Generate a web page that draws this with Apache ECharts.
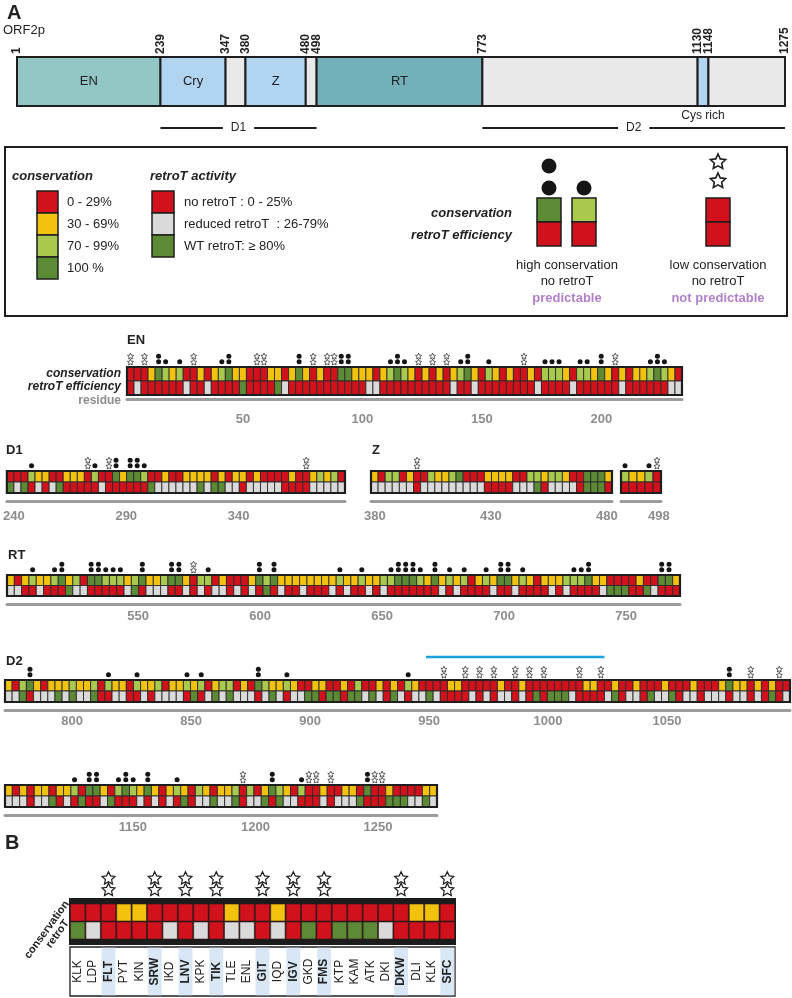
<!DOCTYPE html>
<html><head><meta charset="utf-8">
<script src="https://cdn.jsdelivr.net/npm/echarts@6/dist/echarts.min.js"></script>
<style>html,body{margin:0;padding:0;background:#fff}#c{width:792px;height:998px}</style>
</head><body><div id="c"></div>
<script>
// ---------------- DATA ----------------
// conservation code: 0 = 0-29%, 1 = 30-69%, 2 = 70-99%, 3 = 100%
// retroT code: 0 = no retroT, 1 = reduced, 2 = WT
const domainStart = [1, 239, 347, 380, 480, 498, 773, 1130, 1148];
const domainEnd   = [239, 347, 380, 480, 498, 773, 1130, 1148, 1275];
const domainKind  = [0, 1, 2, 1, 2, 3, 2, 1, 2];
const domainName  = ['EN', 'Cry', '', 'Z', '', 'RT', '', '', ''];
const boundaryLabels = [1, 239, 347, 380, 480, 498, 773, 1130, 1148, 1275];

const EN_cons  = [0,0,0,1,3,2,1,2,0,0, 1,0,1,2,3,1,1,0,0,0, 1,1,0,1,3,1,0,1,0,0, 3,3,1,1,1,0,1,2,3,2,
                  1,0,1,0,1,0,1,2,3,1, 0,2,1,0,1,0,0,1,0,2, 2,2,1,0,2,2,1,3,1,0, 1,0,1,1,2,3,2,1,0];
const EN_retro = [0,1,0,0,0,0,0,0,1,0, 0,1,0,0,0,0,2,0,0,0, 0,2,1,0,0,0,0,0,0,0, 0,0,0,0,1,1,0,0,0,0,
                  0,0,0,0,0,0,1,0,0,1, 0,0,0,0,0,0,0,0,1,0, 0,0,0,1,0,0,0,0,0,0, 1,0,0,0,0,0,0,1,1];
const EN_stars = [0,2,9,18,19,26,28,29,41,43,45,56,69];
const EN_ticks = [50,100,150,200];

const D1_cons  = [0,0,0,2,1,1,0,0,1,1, 1,0,2,0,0,3,1,3,3,2, 0,0,1,0,0,1,1,1,1,0, 1,0,1,1,0,1,0,0,0,0, 1,0,0,1,2,1,2,0];
const D1_retro = [2,1,2,0,1,0,1,2,0,0, 0,0,0,1,0,0,0,0,0,0, 2,1,1,1,1,1,1,2,1,2, 2,1,1,0,1,1,1,1,1,0, 0,0,0,1,1,1,1,1];
const D1_stars = [11,14,42];
const D1_ticks = [240,290,340];

const Z_cons  = [1,0,2,2,0,1,0,0,2,1, 1,2,3,0,0,0,1,1,1,1, 0,0,2,2,1,2,2,1,0,0, 3,3,3,1];
const Z_retro = [1,1,1,1,1,1,0,1,1,1, 1,1,1,1,1,1,0,0,0,0, 1,1,1,2,0,1,1,1,1,0, 2,2,2,0];
const Z_stars = [6];
const Z_ticks = [380,430,480];

const Z2_cons  = [2,1,1,2,0];
const Z2_retro = [0,0,0,0,0];
const Z2_stars = [4];
const Z2_ticks = [498];

const RT_cons  = [1,0,1,2,1,1,2,3,1,2, 0,3,3,2,2,2,1,2,3,1, 1,2,3,3,1,0,2,2,0,1, 0,0,0,1,3,2,3,1,1,1,
                  1,1,1,1,1,2,1,1,2,1, 1,2,2,3,3,3,2,1,3,1, 2,1,2,0,1,2,1,3,3,1, 2,1,0,1,1,1,2,2,2,3,
                  1,1,0,0,0,0,1,0,0,3, 3,1];
const RT_retro = [1,1,0,0,1,0,0,0,2,1, 1,0,0,0,0,0,1,2,0,1, 1,1,0,0,1,0,1,0,1,1, 0,1,0,1,0,2,0,1,0,0,
                  1,0,0,0,1,0,1,0,0,1, 0,1,0,0,0,0,0,0,0,1, 0,1,0,0,0,0,1,0,0,1, 0,0,0,0,1,0,1,0,0,0,
                  0,1,2,2,2,0,0,2,1,0, 0,0];
const RT_stars = [25];
const RT_ticks = [550,600,650,700,750];

// Panel B: the 25 triplets under the blue line in D2
const B_labels = ['KLK','LDP','FLT','PYT','KIN','SRW','IKD','LNV','KPK','TIK','TLE','ENL','GIT',
                  'IQD','IGV','GKD','FMS','KTP','KAM','ATK','DKI','DKW','DLI','KLK','SFC'];
const B_cons   = [0,0,0,1,1,0,0,0,0,0,1,0,0,1,0,0,0,0,0,0,0,0,1,1,0];
const B_retro  = [2,1,0,0,0,0,1,0,1,0,1,1,0,1,0,2,0,2,2,2,1,0,0,0,0];
const B_marked = [0,0,1,0,0,1,0,1,0,1,0,0,1,0,1,0,1,0,0,0,0,1,0,0,1];

const D2a_cons  = [1,0,2,3,1,0,1,1,1,2, 1,1,2,0,2,1,1,0,2,1, 1,2,0,1,1,2,1,2,0,1, 2,2,0,1,0,3,2,1,1,2, 1,0,0,1,1,0,0,1,0,2, 0,0,1,0,1,0,2,1,0];
const D2a_retro = [1,1,2,0,1,1,1,2,1,2, 1,1,2,0,0,1,1,0,0,1, 0,1,1,1,1,0,2,0,1,2, 1,2,1,1,1,0,1,2,1,0, 1,1,2,2,0,2,2,0,2,2, 1,2,1,0,2,1,0,1,1];
const D2b_cons  = [0,1,0,0,1,0,0,0,1,0, 0,0,1,0,0,0,1,3,1,1, 0,1,0,1,0,0];
const D2b_retro = [1,2,0,1,1,0,2,1,1,2, 0,1,1,0,1,1,1,0,1,1, 0,1,0,2,0,1];
const D2_stars  = [61,64,66,68,71,73,75,80,83,104,108];
const D2_blue   = [59, 84];   // cell range covered by panel B
const D2_ticks  = [800,850,900,950,1000,1050];

const CT_cons  = [1,0,1,0,1,1,0,1,1,2, 0,3,3,1,0,2,3,2,1,3, 1,0,1,2,1,0,2,1,0,1, 1,2,0,2,0,1,3,2,1,0, 2,0,0,1,0,0,1,1,0,3, 0,0,1,0,0,0,0,1,1];
const CT_retro = [1,1,1,0,1,1,2,0,1,0, 2,0,0,1,2,0,0,0,1,0, 1,0,1,0,2,0,1,1,2,1, 1,2,0,1,1,2,0,2,1,1, 0,0,0,1,0,1,1,1,2,0, 0,0,2,2,2,1,1,2,1];
const CT_stars = [32,41,42,44,50,51];
const CT_ticks = [1150,1200,1250];

// ---------------- STYLE / LAYOUT ----------------
const FONT = "'Liberation Sans Narrow','Arial Narrow','Liberation Sans',Arial,sans-serif";
const consColors  = ['#d1111c','#f3c20f','#a8c84e','#5c8a35'];
const retroColors = ['#d1111c','#dadada','#5c8a35'];
const domainColors = ['#93c7c6','#b1d5f1','#e9e9e9','#74b0ba'];
const INK = '#1e1e1e';
const TICK_GREY = '#8d8d8d';

const tracks = [
  {cons:EN_cons, retro:EN_retro, stars:EN_stars, ticks:EN_ticks, x0:127, x1:682, y0:367, y1:395, r0:1.5,  r1:233.7, axisY:400, labelY:421},
  {cons:D1_cons, retro:D1_retro, stars:D1_stars, ticks:D1_ticks, x0:5,   x1:345, y0:471, y1:493, r0:236.9,r1:387.3, axisY:502, labelY:518},
  {cons:Z_cons,  retro:Z_retro,  stars:Z_stars,  ticks:Z_ticks,  x0:371, x1:612, y0:471, y1:493, r0:378.3,r1:482.2, axisY:502, labelY:518},
  {cons:Z2_cons, retro:Z2_retro, stars:Z2_stars, ticks:Z2_ticks, x0:621, x1:661, y0:471, y1:493, r0:481.6,r1:498.9, axisY:502, labelY:518},
  {cons:RT_cons, retro:RT_retro, stars:RT_stars, ticks:RT_ticks, x0:7,   x1:680, y0:575, y1:596, r0:496.3,r1:772.1, axisY:605, labelY:618},
  {cons:D2a_cons.concat(B_cons, D2b_cons), retro:D2a_retro.concat(B_retro, D2b_retro), stars:D2_stars, ticks:D2_ticks,
   x0:5, x1:790, y0:680, y1:702, r0:771.8, r1:1101.7, axisY:711, labelY:723, blue:D2_blue},
  {cons:CT_cons, retro:CT_retro, stars:CT_stars, ticks:CT_ticks, x0:5,   x1:437, y0:785, y1:807, r0:1097.8,r1:1274.1, axisY:816, labelY:829}
];

function starPts(cx, cy, R) {
  const pts = [], r = R * 0.48;
  for (let k = 0; k < 10; k++) {
    const a = -Math.PI / 2 + k * Math.PI / 5, rr = (k % 2) ? r : R;
    pts.push([cx + rr * Math.cos(a), cy + rr * Math.sin(a)]);
  }
  return pts;
}
function starEl(cx, cy, R, lw) {
  return {type:'polygon', shape:{points:starPts(cx, cy, R)}, style:{fill:'#fff', stroke:INK, lineWidth:lw}};
}

// ---------------- OPTION ----------------
const grids = [], xAxes = [], yAxes = [], series = [];

// Domain bar
grids.push({left:17, width:768, top:57, height:49});
xAxes.push({type:'value', gridIndex:0, min:1, max:1275, show:false});
yAxes.push({type:'value', gridIndex:0, min:0, max:1, show:false});
series.push({
  type:'custom', xAxisIndex:0, yAxisIndex:0, z:5,
  data: domainStart.map((s, i) => [s, domainEnd[i], domainKind[i], domainName[i]]),
  renderItem: function (p, api) {
    const a = api.coord([api.value(0), 1]), b = api.coord([api.value(1), 0]);
    const k = api.value(2), name = domainName[p.dataIndex];
    const ch = [{type:'rect', shape:{x:a[0], y:a[1], width:b[0]-a[0], height:b[1]-a[1]},
                 style:{fill:domainColors[k], stroke:INK, lineWidth:2}}];
    if (name) ch.push({type:'text', x:(a[0]+b[0])/2, y:(a[1]+b[1])/2,
      style:{text:name, fill:'#222', font:'13px ' + FONT, textAlign:'center', textVerticalAlign:'middle'}});
    return {type:'group', children:ch};
  }
});
series.push({
  type:'custom', xAxisIndex:0, yAxisIndex:0, z:6,
  data: boundaryLabels.map(v => [v]),
  renderItem: function (p, api) {
    const a = api.coord([api.value(0), 1]);
    return {type:'text', x:a[0], y:a[1] - 3, rotation:Math.PI / 2,
      style:{text:String(api.value(0)), fill:'#222', font:'bold 12px ' + FONT, textAlign:'left', textVerticalAlign:'middle'}};
  }
});
// D1 / D2 brackets and Cys rich
series.push({
  type:'custom', xAxisIndex:0, yAxisIndex:0, z:6,
  data: [[239, 498, 'D1'], [773, 1275, 'D2'], [1139, 1139, 'Cys rich']],
  renderItem: function (p, api) {
    const a = api.coord([api.value(0), 0]), b = api.coord([api.value(1), 0]);
    const lab = ['D1','D2','Cys rich'][p.dataIndex];
    if (lab === 'Cys rich') {
      return {type:'text', x:a[0], y:a[1] + 10, style:{text:lab, fill:'#222', font:'12px ' + FONT, textAlign:'center', textVerticalAlign:'middle'}};
    }
    const y = a[1] + 22;
    return {type:'group', children:[
      {type:'line', shape:{x1:a[0], y1:y, x2:b[0], y2:y}, style:{stroke:INK, lineWidth:2}},
      {type:'text', x:(a[0]+b[0])/2, y:y, style:{text:lab, fill:'#222', font:'12px ' + FONT, textAlign:'center', textVerticalAlign:'middle',
        backgroundColor:'#fff', padding:[1, 8]}}
    ]};
  }
});

// Tracks
tracks.forEach(function (t, ti) {
  const gi = grids.length;
  const N = t.cons.length;
  grids.push({left:t.x0, width:t.x1 - t.x0, top:t.y0, height:t.y1 - t.y0});
  const cellAxis = xAxes.length;
  xAxes.push({type:'value', gridIndex:gi, min:0, max:N, show:false});
  xAxes.push({type:'value', gridIndex:gi, min:t.r0, max:t.r1, position:'bottom', offset:t.axisY - t.y1 - 1,
    axisLine:{show:true, lineStyle:{color:'#9c9c9c', width:3}}, axisTick:{show:false}, splitLine:{show:false},
    axisLabel:{show:true, customValues:t.ticks, formatter:function (v) { return String(v); },
      color:TICK_GREY, fontSize:13, fontWeight:'bold', fontFamily:FONT, margin:t.labelY - t.axisY - 7}});
  const yi = yAxes.length;
  yAxes.push({type:'value', gridIndex:gi, min:0, max:2, show:false});
  const data = t.cons.map((c, i) => [i, c, t.retro[i], t.stars.indexOf(i) >= 0 ? 1 : 0]);
  series.push({
    type:'custom', xAxisIndex:cellAxis, yAxisIndex:yi, z:3, data:data,
    renderItem: function (p, api) {
      const i = api.value(0), c = api.value(1), r = api.value(2), s = api.value(3);
      const a = api.coord([i, 2]), m = api.coord([i, 1]), b = api.coord([i + 1, 0]);
      const ch = [
        {type:'rect', shape:{x:a[0], y:a[1], width:b[0]-a[0], height:m[1]-a[1]}, style:{fill:consColors[c], stroke:'#2b2b2b', lineWidth:0.9}},
        {type:'rect', shape:{x:a[0], y:m[1], width:b[0]-a[0], height:b[1]-m[1]}, style:{fill:retroColors[r], stroke:'#2b2b2b', lineWidth:0.9}}
      ];
      const cx = (a[0] + b[0]) / 2;
      if (r === 0 && c >= 2) {
        const n = c === 3 ? 2 : 1;
        for (let k = 0; k < n; k++) ch.push({type:'circle', shape:{cx:cx, cy:a[1] - 5.2 - k * 5.6, r:2.5}, style:{fill:'#151515'}});
      }
      if (s) { ch.push(starEl(cx, a[1] - 4.6, 3.2, 0.7)); ch.push(starEl(cx, a[1] - 10.6, 3.2, 0.7)); }
      return {type:'group', children:ch};
    }
  });
  // outline of the track box
  series.push({
    type:'custom', xAxisIndex:cellAxis, yAxisIndex:yi, z:4, data:[[0]],
    renderItem: function (p, api) {
      const a = api.coord([0, 2]), b = api.coord([N, 0]);
      return {type:'rect', shape:{x:a[0], y:a[1], width:b[0]-a[0], height:b[1]-a[1]}, style:{fill:'none', stroke:INK, lineWidth:2.2}};
    }
  });
  if (t.blue) {
    series.push({
      type:'custom', xAxisIndex:cellAxis, yAxisIndex:yi, z:4, data:[t.blue],
      renderItem: function (p, api) {
        const a = api.coord([api.value(0), 2]), b = api.coord([api.value(1), 2]);
        return {type:'line', shape:{x1:a[0], y1:a[1] - 23, x2:b[0], y2:a[1] - 23}, style:{stroke:'#1ba2d9', lineWidth:2.5}};
      }
    });
  }
});

// Panel B
const bg = grids.length;
grids.push({left:70, width:385, top:904, height:35});
const bx = xAxes.length;
xAxes.push({type:'value', gridIndex:bg, min:0, max:B_labels.length, show:false});
const by = yAxes.length;
yAxes.push({type:'value', gridIndex:bg, min:0, max:2, show:false});
series.push({
  type:'custom', xAxisIndex:bx, yAxisIndex:by, z:2, data:[[0]],
  renderItem: function (p, api) {
    const a = api.coord([0, 2]), b = api.coord([B_labels.length, 0]);
    return {type:'group', children:[
      {type:'rect', shape:{x:a[0]-1, y:a[1]-6, width:b[0]-a[0]+2, height:b[1]-a[1]+12}, style:{fill:'#1c1c1c'}},
      {type:'rect', shape:{x:a[0], y:b[1]+8, width:b[0]-a[0], height:49}, style:{fill:'#fff', stroke:INK, lineWidth:1.3}}
    ]};
  }
});
series.push({
  type:'custom', xAxisIndex:bx, yAxisIndex:by, z:3,
  data: B_labels.map((l, i) => [i, B_cons[i], B_retro[i], B_marked[i]]),
  renderItem: function (p, api) {
    const i = api.value(0), c = api.value(1), r = api.value(2), s = api.value(3);
    const a = api.coord([i, 2]), m = api.coord([i, 1]), b = api.coord([i + 1, 0]);
    const cx = (a[0] + b[0]) / 2, w = b[0] - a[0];
    const ch = [
      {type:'rect', shape:{x:a[0]+0.5, y:a[1], width:w-1, height:m[1]-a[1]-0.5}, style:{fill:consColors[c], stroke:'#3a1a1a', lineWidth:0.6}},
      {type:'rect', shape:{x:a[0]+0.5, y:m[1]+0.5, width:w-1, height:b[1]-m[1]-0.5}, style:{fill:retroColors[r], stroke:'#3a1a1a', lineWidth:0.6}}
    ];
    if (s) {
      ch.push({type:'rect', shape:{x:a[0]+0.7, y:b[1]+8.7, width:w-1.4, height:47.6}, style:{fill:'#d9e7f5'}});
      ch.push(starEl(cx, a[1] - 25.5, 6.8, 1.2));
      ch.push(starEl(cx, a[1] - 14, 6.8, 1.2));
    }
    ch.push({type:'text', x:cx, y:b[1] + 32.5, rotation:Math.PI / 2,
      style:{text:B_labels[i], fill:'#222', font:(s ? 'bold ' : '') + '12px ' + FONT, textAlign:'center', textVerticalAlign:'middle'}});
    return {type:'group', children:ch};
  }
});

// ---------------- STATIC TEXT / LEGEND ----------------
function txt(x, y, s, font, extra) {
  return Object.assign({type:'text', x:x, y:y, style:Object.assign({text:s, fill:'#222', font:font, textVerticalAlign:'middle'}, extra || {})});
}
const g = [];
g.push(txt(7, 13, 'A', 'bold 20px ' + FONT));
g.push(txt(3, 30, 'ORF2p', '13px ' + FONT));
g.push(txt(5, 843, 'B', 'bold 20px ' + FONT));
// legend frame
g.push({type:'rect', shape:{x:5, y:147, width:782, height:169}, style:{fill:'none', stroke:INK, lineWidth:2}});
g.push(txt(12, 176, 'conservation', 'italic bold 13px ' + FONT));
g.push(txt(150, 176, 'retroT activity', 'italic bold 13px ' + FONT));
const consLeg = ['0 - 29%', '30 - 69%', '70 - 99%', '100 %'];
consLeg.forEach(function (s, i) {
  g.push({type:'rect', shape:{x:37, y:191 + i*22, width:21, height:22}, style:{fill:consColors[i], stroke:INK, lineWidth:1.5}});
  g.push(txt(67, 202 + i*22, s, '13px ' + FONT));
});
const retroLeg = ['no retroT : 0 - 25%', 'reduced retroT  : 26-79%', 'WT retroT: \u2265 80%'];
retroLeg.forEach(function (s, i) {
  g.push({type:'rect', shape:{x:152, y:191 + i*22, width:22, height:22}, style:{fill:retroColors[i], stroke:INK, lineWidth:1.5}});
  g.push(txt(184, 202 + i*22, s, '13px ' + FONT));
});
g.push(txt(512, 213, 'conservation', 'italic bold 13px ' + FONT, {textAlign:'right'}));
g.push(txt(512, 235, 'retroT efficiency', 'italic bold 13px ' + FONT, {textAlign:'right'}));
[[537, 3, 0], [572, 2, 0], [706, 0, 0]].forEach(function (q) {
  g.push({type:'rect', shape:{x:q[0], y:198, width:24, height:24}, style:{fill:consColors[q[1]], stroke:INK, lineWidth:1.5}});
  g.push({type:'rect', shape:{x:q[0], y:222, width:24, height:24}, style:{fill:retroColors[q[2]], stroke:INK, lineWidth:1.5}});
});
g.push({type:'circle', shape:{cx:549, cy:166, r:7.5}, style:{fill:'#151515'}});
g.push({type:'circle', shape:{cx:549, cy:188, r:7.5}, style:{fill:'#151515'}});
g.push({type:'circle', shape:{cx:584, cy:188, r:7.5}, style:{fill:'#151515'}});
g.push(starEl(718, 162, 8, 1.6));
g.push(starEl(718, 181, 8, 1.6));
g.push(txt(567, 265, 'high conservation', '13px ' + FONT, {textAlign:'center'}));
g.push(txt(567, 281, 'no retroT', '13px ' + FONT, {textAlign:'center'}));
g.push(txt(567, 298, 'predictable', 'bold 13px ' + FONT, {textAlign:'center', fill:'#b27fc9'}));
g.push(txt(718, 265, 'low conservation', '13px ' + FONT, {textAlign:'center'}));
g.push(txt(718, 281, 'no retroT', '13px ' + FONT, {textAlign:'center'}));
g.push(txt(718, 298, 'not predictable', 'bold 13px ' + FONT, {textAlign:'center', fill:'#b27fc9'}));
// track titles and row labels
g.push(txt(127, 340, 'EN', 'bold 13px ' + FONT));
g.push(txt(6, 450, 'D1', 'bold 13px ' + FONT));
g.push(txt(372, 450, 'Z', 'bold 13px ' + FONT));
g.push(txt(8, 555, 'RT', 'bold 13px ' + FONT));
g.push(txt(6, 661, 'D2', 'bold 13px ' + FONT));
g.push(txt(121, 374, 'conservation', 'italic bold 12px ' + FONT, {textAlign:'right'}));
g.push(txt(121, 387, 'retroT efficiency', 'italic bold 12px ' + FONT, {textAlign:'right'}));
g.push(txt(121, 401, 'residue', 'bold 12px ' + FONT, {textAlign:'right', fill:TICK_GREY}));
g.push({type:'text', x:67, y:902, rotation:Math.PI*0.3, style:{text:'conservation', fill:'#222', font:'bold 11px ' + FONT, textAlign:'right', textVerticalAlign:'middle'}});
g.push({type:'text', x:67, y:921, rotation:Math.PI*0.3, style:{text:'retroT', fill:'#222', font:'bold 11px ' + FONT, textAlign:'right', textVerticalAlign:'middle'}});

const chart = echarts.init(document.getElementById('c'), null, {renderer:'canvas', width:792, height:998});
chart.setOption({
  animation:false,
  backgroundColor:'#fff',
  grid:grids, xAxis:xAxes, yAxis:yAxes, series:series,
  graphic:{elements:g}
});
</script></body></html>
